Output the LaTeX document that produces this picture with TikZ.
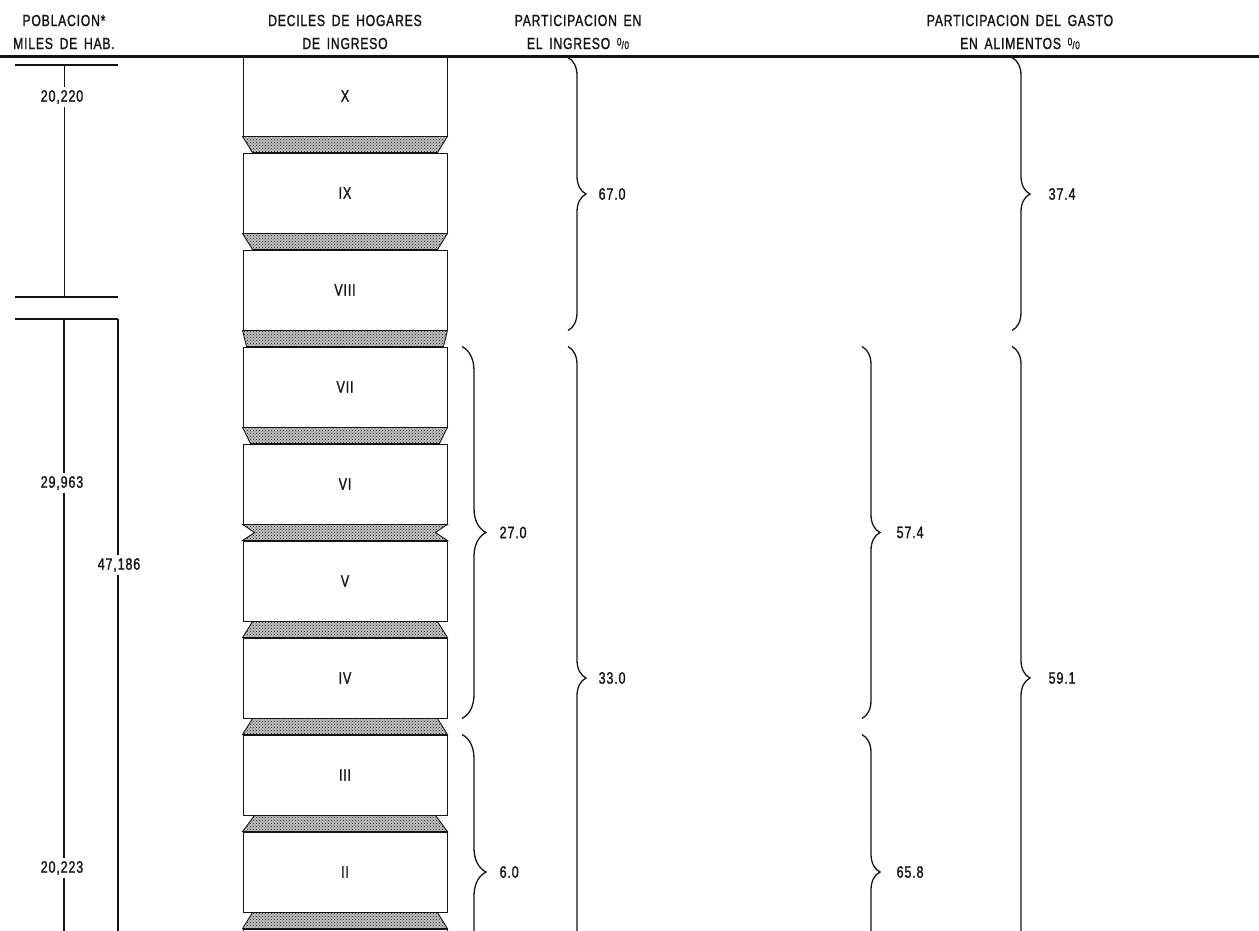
\documentclass[tikz,border=0pt]{standalone}
\usepackage{fontspec}
\setmainfont{Liberation Sans}[FakeStretch=0.76,LetterSpace=5,FakeBold=1.2,WordSpace=1.6]
\usetikzlibrary{calc,positioning,patterns,decorations.pathreplacing}
\definecolor{Ink}{HTML}{141414}
\definecolor{Dots}{HTML}{A8A8A8}
\tikzset{
  decil/.style={draw=Ink,line width=0.9pt,minimum width=204pt,minimum height=80pt,inner sep=0pt,font=\fontsize{16.5}{18}\selectfont,text=Ink},
  band/.style={draw=Ink,line width=0.9pt,fill=Dots!70,postaction={pattern=crosshatch dots,pattern color=Ink}},
  hdr/.style={align=center,font=\fontsize{16}{23}\selectfont,text=Ink},
  val/.style={font=\fontsize{16.5}{18}\selectfont,text=Ink,inner sep=1pt},
  popval/.style={val,fill=white,inner sep=3pt},
  llave/.style={decorate,decoration={brace,amplitude=#1},line width=1.3pt,draw=Ink},
  popline/.style={line width=1.1pt,draw=Ink}
}
\newcommand{\pcto}{{\fontsize{11}{11}\selectfont\raisebox{0.6ex}{0}/0}}

\begin{document}
\begin{tikzpicture}[x=1pt,y=-1pt]
\useasboundingbox (0,0) rectangle (1259,930);
\clip (0,0) rectangle (1259,930);

% encabezados
\node[hdr] (hPob) at (64,32) {POBLACION*\\MILES DE HAB.};
\node[hdr] (hDec) at (345,32) {DECILES DE HOGARES\\DE INGRESO};
\node[hdr] (hIng) at (578,32) {PARTICIPACION EN\\EL INGRESO \pcto};
\node[hdr] (hGas) at (1020,32) {PARTICIPACION DEL GASTO\\EN ALIMENTOS \pcto};
\draw[line width=3pt,Ink] (0,56) -- (1259,56);

% poblacion
\draw[popline] (15,65) -- (118,65);
\draw[popline,line width=0.7pt] (64,65) -- (64,297);
\draw[popline] (15,297) -- (118,297);
\draw[popline] (15,319) -- (118,319);
\draw[popline] (64,319) -- (64,1010);
\draw[popline] (118,319) -- (118,1010);
\node[popval] (pX) at (62,97) {20,220};
\node[popval] (pMid) at (62,483) {29,963};
\node[popval] (pTot) at (119,565) {47,186};
\node[popval] (pLow) at (62,868) {20,223};

% deciles
\node[decil] (dX) at (345,96) {X};
\foreach \n/\lab [count=\i from 0] in {dIX/IX,dVIII/VIII,dVII/VII,dVI/VI,dV/V,dIV/IV,dIII/III,dII/II,dI/}
  \node[decil] (\n) at (345,193+97*\i) {\lab};

\foreach \a/\b/\ti/\mi/\bi in {dX/dIX/0/5/10,dIX/dVIII/0/5/10,dVIII/dVII/0/2/4,dVII/dVI/0/4/8,dVI/dV/0/12/0,dV/dIV/10/5/0,dIV/dIII/10/5/0,dIII/dII/12/6/0,dII/dI/10/5/0}
  \draw[band] ($(\a.south west)+(\ti,0)$) -- ($(\a.south east)+(-\ti,0)$)
    -- ($(\a.south east)!0.5!(\b.north east)+(-\mi,0)$) -- ($(\b.north east)+(-\bi,0)$)
    -- ($(\b.north west)+(\bi,0)$) -- ($(\a.south west)!0.5!(\b.north west)+(\mi,0)$) -- cycle;

% llaves
\coordinate (ingS) at (462,0);
\coordinate (ingL) at (568,0);
\coordinate (gasS) at (862,0);
\coordinate (gasL) at (1012,0);

\draw[llave=18pt] ($(dX.north -| ingL)+(0,2)$) -- node[val,right=29pt] (i670) {67.0} (dVIII.south -| ingL);
\draw[llave=24pt] (dVII.north -| ingS) -- node[val,right=36pt] (i270) {27.0} (dIV.south -| ingS);
\draw[llave=18pt] (dVII.north -| ingL) -- node[val,right=29pt] (i330) {33.0} (dI.south -| ingL);
\draw[llave=24pt] (dIII.north -| ingS) -- node[val,right=36pt] (i60) {6.0} (dI.south -| ingS);

\draw[llave=18pt] ($(dX.north -| gasL)+(0,2)$) -- node[val,right=35pt] (g374) {37.4} (dVIII.south -| gasL);
\draw[llave=18pt] (dVII.north -| gasS) -- node[val,right=33pt] (g574) {57.4} (dIV.south -| gasS);
\draw[llave=18pt] (dVII.north -| gasL) -- node[val,right=35pt] (g591) {59.1} (dI.south -| gasL);
\draw[llave=18pt] (dIII.north -| gasS) -- node[val,right=33pt] (g658) {65.8} (dI.south -| gasS);
\end{tikzpicture}
\end{document}
